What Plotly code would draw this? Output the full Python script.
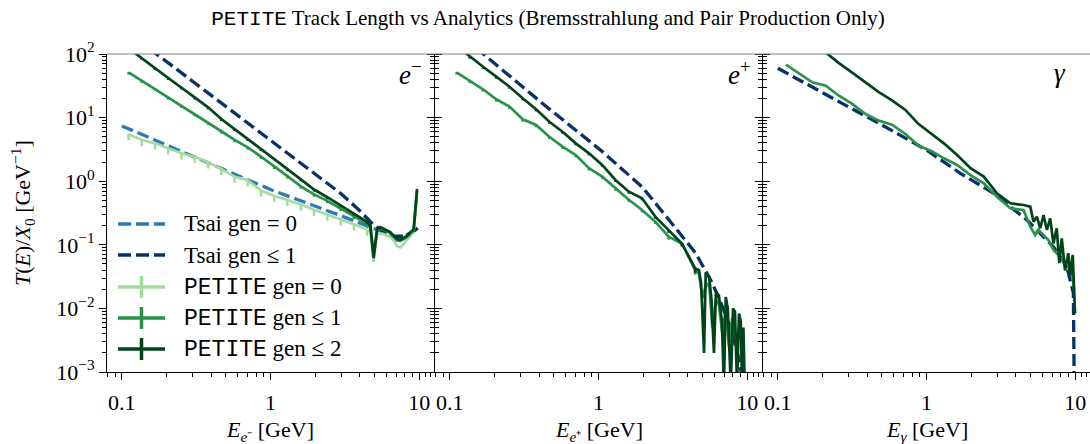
import plotly.graph_objects as go

# ---------------- data ----------------
# e- panel (and e+) : PETITE bin energies (GeV)
E_grid = [0.1109, 0.1361, 0.1671, 0.2051, 0.2518, 0.3090, 0.3802, 0.4667, 0.5728, 0.7031,
          0.8630, 1.059, 1.300, 1.600, 1.963, 2.410, 2.965, 3.639, 4.467]
E_tail_em = [4.70, 4.94, 5.21, 5.48, 5.78, 6.08, 6.40, 6.75, 7.10, 7.48, 7.87, 8.28, 8.73, 9.18, 9.68]

em_gen0 = [5.5, 4.45, 3.94, 3.29, 2.75, 2.43, 1.98, 1.56, 1.18, 1.04, 0.71, 0.59, 0.51, 0.43, 0.355,
           0.30, 0.25, 0.21, 0.174,
           0.158, 0.054, 0.145, 0.151, 0.148, 0.138, 0.132, 0.117, 0.095, 0.091, 0.102, 0.12, 0.138, 0.158, 0.56]
em_gen1 = [51.5, 38.0, 28.9, 20.8, 15.4, 11.4, 8.4, 6.1, 4.45, 3.41, 2.43, 1.68, 1.2, 0.83, 0.62,
           0.49, 0.37, 0.275, 0.214,
           0.19, 0.07, 0.166, 0.18, 0.174, 0.162, 0.151, 0.132, 0.117, 0.115, 0.123, 0.132, 0.151, 0.166, 0.71]
em_gen2 = [123, 87, 60, 42, 29.9, 20.8, 14.5, 9.5, 6.6, 4.6, 3.2, 2.3, 1.55, 1.07, 0.74,
           0.56, 0.42, 0.31, 0.23,
           0.20, 0.062, 0.174, 0.19, 0.18, 0.17, 0.158, 0.138, 0.123, 0.12, 0.129, 0.138, 0.158, 0.174, 0.76]
# relative (downward) error bars at the marker bins
em_gen0_relerr = [0.2, 0.2, 0.2, 0.2, 0.2, 0.2, 0.2, 0.2, 0.2, 0.2, 0.2, 0.2, 0.2, 0.2, 0.2, 0.2, 0.2, 0.2, 0.2]
em_gen1_relerr = [0.08, 0.08, 0.08, 0.08, 0.08, 0.08, 0.08, 0.08, 0.08, 0.08, 0.08, 0.08, 0.08, 0.08, 0.08, 0.08, 0.08, 0.08, 0.08]
em_gen2_relerr = [0.07, 0.07, 0.07, 0.07, 0.07, 0.07, 0.07, 0.07, 0.07, 0.07, 0.07, 0.07, 0.07, 0.07, 0.07, 0.07, 0.07, 0.07, 0.07]

E_tsai_em = [0.1, 0.15, 0.2, 0.3, 0.5, 0.7, 1.0, 1.5, 2, 3, 4, 5, 6, 7, 8, 9, 10]
tsai_em_gen0 = [7.4, 4.94, 3.72, 2.47, 1.48, 1.06, 0.74, 0.52, 0.41, 0.285, 0.219, 0.178, 0.151, 0.135, 0.138, 0.158, 0.19]
tsai_em_gen1 = [250, 126, 76, 37, 15.1, 8.3, 4.4, 2.14, 1.29, 0.63, 0.34, 0.20, 0.151, 0.135, 0.138, 0.158, 0.19]

# e+ panel
E_tail_ep1 = [4.74, 5.00, 5.26, 5.55, 5.83, 6.17, 6.47, 6.81, 7.18, 7.55, 7.94, 8.38, 8.83, 9.29, 9.66]
ep_gen1 = [51.5, 38.0, 27.9, 19.4, 14.9, 9.4, 7.66, 5.0, 3.49, 2.58, 1.60, 1.18, 0.77, 0.51, 0.352,
           0.231, 0.134, 0.105, 0.040,
           0.0355, 0.0145, 0.0224, 0.0251, 0.005, 0.0141, 0.0112, 0.004, 0.010, 0.0025, 0.0071, 0.0032, 0.005, 0.0025, 0.0005]
E_tail_ep2 = [4.74, 4.90, 5.13, 5.26, 5.55, 5.75, 5.98, 6.17, 6.46, 6.76, 6.98, 7.18, 7.41, 7.76, 8.04,
              8.28, 8.55, 8.81, 9.06, 9.25, 9.44, 9.66]
ep_gen2 = [135, 91, 63, 44, 30.6, 20.1, 13.5, 8.6, 6.0, 3.94, 2.74, 1.80, 1.045, 0.684, 0.538,
           0.277, 0.171, 0.105, 0.0427,
           0.040, 0.0251, 0.0020, 0.0339, 0.0316, 0.0141, 0.0020, 0.0182, 0.0158, 0.0063, 0.0006, 0.0151,
           0.0100, 0.0006, 0.0100, 0.0089, 0.0006, 0.0083, 0.0063, 0.0006, 0.0050, 0.0004]
ep_gen1_relerr = [0.08, 0.08, 0.08, 0.08, 0.08, 0.08, 0.08, 0.08, 0.08, 0.08, 0.08, 0.08, 0.08, 0.08, 0.08, 0.08, 0.1, 0.1, 0.15]
ep_gen2_relerr = [0.07, 0.07, 0.07, 0.07, 0.07, 0.07, 0.07, 0.07, 0.07, 0.07, 0.07, 0.07, 0.07, 0.07, 0.07, 0.07, 0.1, 0.1, 0.15]

E_tsai_ep = [0.1, 0.1675, 0.424, 1.047, 1.306, 1.972, 2.985, 4.508, 5.83, 6.81, 7.96, 8.83, 9.44, 9.77]
tsai_ep_gen1 = [275, 100, 16.4, 3.0, 1.9, 0.81, 0.245, 0.074, 0.025, 0.0107, 0.0041, 0.00155, 0.00063, 0.00025]

# gamma panel
E_g1 = [0.1132, 0.1355, 0.1706, 0.2099, 0.2576, 0.3162, 0.3890, 0.4775, 0.5861, 0.7211, 0.8851, 1.086,
        1.309, 1.607, 1.977, 2.427, 2.979, 3.664, 4.498, 4.989, 5.383, 5.662, 6.124, 6.607, 7.145,
        7.925, 8.790, 9.484, 9.840]
g_gen1 = [67.9, 51.5, 35.9, 31.8, 22.1, 16.4, 11.4, 8.95, 7.74, 5.52, 3.61, 2.95,
          2.29, 1.80, 1.25, 0.927, 0.570, 0.375, 0.352, 0.193, 0.143, 0.171, 0.143, 0.119, 0.083,
          0.0646, 0.0453, 0.0398, 0.0195]
E_g2 = [0.1706, 0.2099, 0.2576, 0.3162, 0.3890, 0.4775, 0.5861, 0.7211, 0.8851, 1.086, 1.309, 1.607,
        1.977, 2.427, 2.979, 3.664, 4.498, 4.989, 5.248, 5.534, 5.821, 6.124, 6.457, 6.792, 7.145,
        7.516, 7.834, 8.128, 8.551, 8.995, 9.247, 9.638, 9.840, 9.98]
g_gen2 = [155, 105, 72, 51, 35.5, 25.1, 18.6, 13.2, 7.9, 5.4, 3.94, 2.58,
          1.60, 1.18, 0.646, 0.449, 0.423, 0.398, 0.231, 0.277, 0.182, 0.294, 0.171, 0.261, 0.105,
          0.182, 0.0513, 0.126, 0.0398, 0.0735, 0.0335, 0.0692, 0.0248, 0.0083]

E_tsai_g = [0.1, 0.178, 0.308, 0.562, 1.0, 1.69, 2.83, 4.74, 7.14, 8.79, 9.73, 9.85, 9.9]
tsai_g_gen1 = [59.6, 28.8, 14.5, 6.6, 3.09, 1.33, 0.646, 0.245, 0.093, 0.0453, 0.0174, 0.003, 0.0002]

x_tickvals = [0.1, 1, 10]
x_ticktext = ["0.1", "1", "10"]
y_tickvals = [1e-3, 1e-2, 1e-1, 1, 10, 100]
y_ticktext = ["10<sup>−3</sup>", "10<sup>−2</sup>", "10<sup>−1</sup>", "10<sup>0</sup>", "10<sup>1</sup>", "10<sup>2</sup>"]

# ---------------- style ----------------
C_TSAI0 = "#2b7bba"
C_TSAI1 = "#08306b"
C_G0 = "#a6dba0"
C_G1 = "#2a934a"
C_G2 = "#00441b"
SERIF = "Liberation Serif"
MONO = "Liberation Mono"
DASH = "12px,5px"
W, H = 1090, 444

fig = go.Figure()


def errs(vals, rel):
    out = []
    for i, v in enumerate(vals):
        out.append(v * rel[i] if i < len(rel) else 0.0)
    return out


def add_line(x, y, color, ax, dash=None, width=2.7, rel=None, name=None):
    kw = {}
    if rel is not None:
        kw["error_y"] = dict(type="data", symmetric=False, array=[0.0] * len(y),
                             arrayminus=errs(y, rel), color=color, thickness=2.6, width=0)
    fig.add_trace(go.Scatter(x=x, y=y, mode="lines", line=dict(color=color, width=width, dash=dash),
                             xaxis="x" + ax, yaxis="y" + ax, showlegend=False, name=name,
                             hoverinfo="skip", **kw))


# e- panel
add_line(E_tsai_em, tsai_em_gen0, C_TSAI0, "", dash=DASH, width=3.3, name="Tsai gen = 0")
add_line(E_tsai_em, tsai_em_gen1, C_TSAI1, "", dash=DASH, width=3.3, name="Tsai gen ≤ 1")
add_line(E_grid + E_tail_em, em_gen0, C_G0, "", rel=em_gen0_relerr, name="PETITE gen = 0")
add_line(E_grid + E_tail_em, em_gen1, C_G1, "", rel=em_gen1_relerr, name="PETITE gen ≤ 1")
add_line(E_grid + E_tail_em, em_gen2, C_G2, "", rel=em_gen2_relerr, name="PETITE gen ≤ 2")
# e+ panel
add_line(E_tsai_ep, tsai_ep_gen1, C_TSAI1, "2", dash=DASH, width=3.3, name="Tsai gen ≤ 1")
add_line(E_grid + E_tail_ep1, ep_gen1, C_G1, "2", rel=ep_gen1_relerr, name="PETITE gen ≤ 1")
add_line(E_grid + E_tail_ep2, ep_gen2, C_G2, "2", rel=ep_gen2_relerr, name="PETITE gen ≤ 2")
# gamma panel
add_line(E_tsai_g, tsai_g_gen1, C_TSAI1, "3", dash=DASH, width=3.3, name="Tsai gen ≤ 1")
add_line(E_g1, g_gen1, C_G1, "3", name="PETITE gen ≤ 1")
add_line(E_g2, g_gen2, C_G2, "3", name="PETITE gen ≤ 2")

tickfont = dict(family=SERIF, size=22, color="black")
xminor = [0.08, 0.09, 0.2, 0.3, 0.4, 0.5, 0.6, 0.7, 0.8, 0.9, 2, 3, 4, 5, 6, 7, 8, 9, 11, 12]
yminor = []
for d in [1e-3, 1e-2, 1e-1, 1, 10]:
    for m in range(2, 10):
        yminor.append(m * d)

dom_x = [[107 / W, 434 / W], [435 / W, 762 / W], [763 / W, 1.0]]
dom_y = [1 - 372 / H, 1 - 54 / H]
for i, ax in enumerate(["", "2", "3"]):
    fig.update_layout(**{
        "xaxis" + ax: dict(type="log", range=[-1.1, 1.1], domain=dom_x[i], anchor="y" + ax,
                           tickvals=x_tickvals, ticktext=x_ticktext, ticks="outside", ticklen=7,
                           tickwidth=1, tickcolor="black", showline=True, linecolor="black",
                           linewidth=1, showgrid=False, zeroline=False, tickfont=tickfont,
                           automargin=False, ticklabelstandoff=4,
                           minor=dict(tickvals=xminor, ticks="outside", ticklen=4, tickwidth=1,
                                      tickcolor="black", showgrid=False)),
        "yaxis" + ax: dict(type="log", range=[-3, 2], domain=dom_y, anchor="x" + ax,
                           tickvals=y_tickvals, ticktext=y_ticktext, ticks="outside", ticklen=7,
                           tickwidth=1, tickcolor="black", showline=True, linecolor="black",
                           linewidth=1, mirror="allticks", showgrid=False, zeroline=False,
                           showticklabels=(i == 0), tickfont=tickfont, automargin=False,
                           minor=dict(tickvals=yminor, ticks="outside", ticklen=4, tickwidth=1,
                                      tickcolor="black", showgrid=False)),
    })

annots = [
    dict(text="<i>E</i><sub><i>e</i>⁻</sub> [GeV]", x=270 / W, y=1 - 431 / H),
    dict(text="<i>E</i><sub><i>e</i>⁺</sub> [GeV]", x=599 / W, y=1 - 431 / H),
    dict(text="<i>E</i><sub><i>γ</i></sub> [GeV]", x=927 / W, y=1 - 431 / H),
]
for a in annots:
    fig.add_annotation(xref="paper", yref="paper", showarrow=False, xanchor="center", yanchor="middle",
                       font=dict(family=SERIF, size=22, color="black"), **a)
fig.add_annotation(xref="paper", yref="paper", showarrow=False, x=22 / W, y=1 - 213 / H,
                   textangle=-90, xanchor="center", yanchor="middle",
                   text="<i>T</i>(<i>E</i>)/<i>X</i><sub>0</sub> [GeV<sup>−1</sup>]",
                   font=dict(family=SERIF, size=22, color="black"))
for txt, xr in [("<i>e</i><sup>−</sup>", 424), ("<i>e</i><sup>+</sup>", 753), ("<i>γ</i>", 1068)]:
    fig.add_annotation(xref="paper", yref="paper", showarrow=False, x=xr / W, y=1 - 73 / H,
                       xanchor="right", yanchor="middle", text=txt,
                       font=dict(family=SERIF, size=27, color="black"))

# top frame line (lighter, as in the reference)
fig.add_shape(type="line", xref="paper", yref="paper", x0=107 / W, x1=1.0, y0=dom_y[1], y1=dom_y[1],
              line=dict(color="#808080", width=1))

# ---------------- legend (drawn in panel 1) ----------------
pet = '<span style="font-family:%s">PETITE</span>' % MONO
legend_items = [
    ("Tsai gen = 0", C_TSAI0, True, 224),
    ("Tsai gen ≤ 1", C_TSAI1, True, 255),
    (pet + " gen = 0", C_G0, False, 287),
    (pet + " gen ≤ 1", C_G1, False, 318),
    (pet + " gen ≤ 2", C_G2, False, 349),
]
for label, col, dashed, yp in legend_items:
    yy = 1 - yp / H
    if dashed:
        fig.add_shape(type="line", xref="paper", yref="paper", x0=118 / W, x1=165 / W, y0=yy, y1=yy,
                      line=dict(color=col, width=3.3, dash="13px,5px"))
    else:
        fig.add_shape(type="line", xref="paper", yref="paper", x0=118 / W, x1=165 / W, y0=yy, y1=yy,
                      line=dict(color=col, width=3.5))
        fig.add_shape(type="line", xref="paper", yref="paper", x0=141.5 / W, x1=141.5 / W,
                      y0=1 - (yp - 11) / H, y1=1 - (yp + 11) / H, line=dict(color=col, width=3.5))
    fig.add_annotation(xref="paper", yref="paper", showarrow=False, x=182 / W, y=yy,
                       xanchor="left", yanchor="middle", text=label,
                       font=dict(family=SERIF, size=23, color="black"))

fig.update_layout(
    width=W, height=H, margin=dict(l=0, r=0, t=0, b=0),
    paper_bgcolor="white", plot_bgcolor="white", showlegend=False,
    title=dict(text='<span style="font-family:%s">PETITE</span> Track Length vs Analytics '
                    '(Bremsstrahlung and Pair Production Only)' % MONO,
               x=548 / W, xanchor="center", y=1 - 18 / H, yanchor="middle", automargin=False,
               font=dict(family=SERIF, size=21, color="black")),
)

fig.write_html("out.html")
